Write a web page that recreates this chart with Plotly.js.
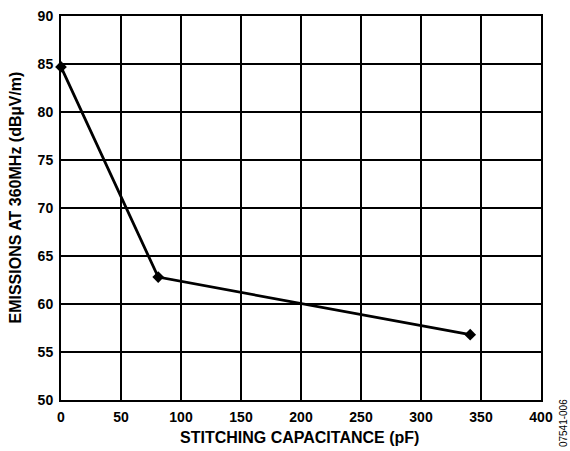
<!DOCTYPE html>
<html><head><meta charset="utf-8">
<script src="https://cdn.plot.ly/plotly-3.0.1.min.js"></script>
<style>html,body{margin:0;padding:0;background:#fff}</style>
</head><body><div id="chart" style="width:570px;height:451px"></div>
<script>
const capacitance = [0, 81, 341];
const emissions = [84.7, 62.8, 56.8];
const xTicks = [0, 50, 100, 150, 200, 250, 300, 350, 400];
const yTicks = [50, 55, 60, 65, 70, 75, 80, 85, 90];
const xTitle = 'STITCHING CAPACITANCE (pF)';
const yTitle = 'EMISSIONS AT 360MHz (dBµV/m)';
const figId = '07541-006';
const fontFam = '"Liberation Sans", Arial, sans-serif';
Plotly.newPlot('chart', [{
  x: capacitance, y: emissions, type: 'scatter', mode: 'lines+markers',
  line: {color: '#000', width: 2.8},
  marker: {symbol: 'diamond', size: 9, color: '#000'},
  cliponaxis: false
}], {
  width: 570, height: 451,
  margin: {l: 61, r: 29, t: 16, b: 51},
  paper_bgcolor: '#fff', plot_bgcolor: '#fff',
  showlegend: false,
  font: {family: fontFam, color: '#000'},
  xaxis: {range: [0, 400], tickvals: xTicks, ticktext: xTicks.map(String),
    showgrid: true, gridcolor: '#000', gridwidth: 1.3, zeroline: false,
    showline: true, linecolor: '#000', linewidth: 2, mirror: true,
    ticks: '', ticklabelstandoff: 3, tickfont: {size: 14, family: fontFam, weight: 'bold'}},
  yaxis: {range: [50, 90], tickvals: yTicks, ticktext: yTicks.map(String),
    showgrid: true, gridcolor: '#000', gridwidth: 1.3, zeroline: false,
    showline: true, linecolor: '#000', linewidth: 2, mirror: true,
    ticks: '', ticklabelstandoff: 3, tickfont: {size: 14, family: fontFam, weight: 'bold'}},
  annotations: [
    {text: xTitle, xref: 'paper', yref: 'paper', x: 0.4979, y: -0.098,
     showarrow: false, xanchor: 'center', yanchor: 'middle',
     font: {size: 16, family: fontFam, weight: 'bold', color: '#000'}},
    {text: yTitle, xref: 'paper', yref: 'paper', x: -0.09375, y: 0.5273,
     textangle: -90, showarrow: false, xanchor: 'center', yanchor: 'middle',
     font: {size: 16, family: fontFam, weight: 'bold', color: '#000'}},
    {text: figId, xref: 'paper', yref: 'paper', x: 1.046, y: -0.06,
     textangle: -90, showarrow: false, xanchor: 'center', yanchor: 'middle',
     font: {size: 10, family: fontFam, color: '#000'}}
  ]
}, {displayModeBar: false, staticPlot: true});
</script></body></html>
